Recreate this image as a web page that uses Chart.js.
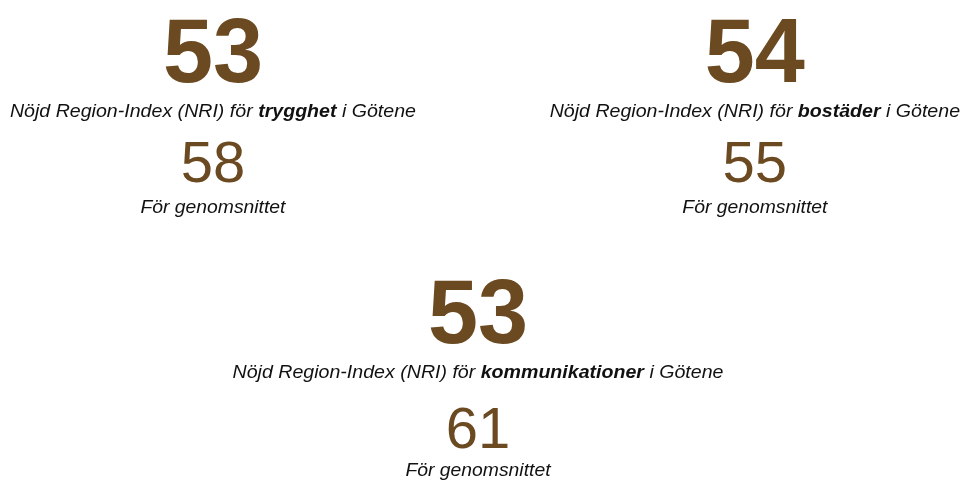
<!DOCTYPE html>
<html>
<head>
<meta charset="utf-8">
<script src="https://cdn.jsdelivr.net/npm/chart.js@4/dist/chart.umd.min.js"></script>
<style>
  html, body { margin: 0; padding: 0; background: #ffffff; }
  #wrap { width: 961px; height: 480px; }
</style>
</head>
<body>
<div id="wrap"><canvas id="c" width="961" height="480"></canvas></div>
<script>
// ---- data ----
const themes = ['trygghet', 'bostäder', 'kommunikationer'];
const nriValues = [53, 54, 53];
const averageValues = [58, 55, 61];
const municipality = 'Götene';
const labelPrefix = 'Nöjd Region-Index (NRI) för ';
const averageLabel = 'För genomsnittet';

// ---- layout ----
const blockLayout = [
  { cx: 0.2216, top: 0, avgShift: 0, capShift: 0 },
  { cx: 0.7855, top: 0, avgShift: 0, capShift: 0 },
  { cx: 0.4974, top: 261, avgShift: 5, capShift: 2 }
];

const BROWN = '#6b4a22';
const FONT = '"Liberation Sans", Arial, Helvetica, sans-serif';

function drawScaled(ctx, text, x, y, sx) {
  ctx.save();
  ctx.translate(x, y);
  ctx.scale(sx, 1);
  ctx.fillText(text, 0, 0);
  ctx.restore();
}

const kpiPlugin = {
  id: 'kpiText',
  afterDraw(chart) {
    const ctx = chart.ctx;
    const W = chart.width;
    ctx.save();
    ctx.textBaseline = 'alphabetic';
    themes.forEach((theme, i) => {
      const b = blockLayout[i];
      const cx = b.cx * W;
      const t = b.top;

      // big NRI number
      ctx.fillStyle = BROWN;
      ctx.font = 'bold 90px ' + FONT;
      ctx.textAlign = 'center';
      ctx.fillText(String(nriValues[i]), cx, 82 + t);

      // label with bold theme
      const sx = 1.088;
      const parts = [
        { txt: labelPrefix, bold: false },
        { txt: theme, bold: true },
        { txt: ' i ' + municipality, bold: false }
      ];
      let total = 0;
      parts.forEach(p => {
        ctx.font = (p.bold ? 'italic bold ' : 'italic ') + '18px ' + FONT;
        p.w = ctx.measureText(p.txt).width * sx;
        total += p.w;
      });
      let x = cx - total / 2;
      ctx.textAlign = 'left';
      ctx.fillStyle = '#111111';
      parts.forEach(p => {
        ctx.font = (p.bold ? 'italic bold ' : 'italic ') + '18px ' + FONT;
        drawScaled(ctx, p.txt, x, 117 + t, sx);
        x += p.w;
      });

      // average value
      ctx.textAlign = 'center';
      ctx.fillStyle = BROWN;
      ctx.font = '58px ' + FONT;
      ctx.fillText(String(averageValues[i]), cx, 182 + t + b.avgShift);

      // average caption
      ctx.fillStyle = '#111111';
      ctx.font = 'italic 18px ' + FONT;
      drawScaled(ctx, averageLabel, cx, 213 + t + b.capShift, 1.074);
    });
    ctx.restore();
  }
};

new Chart(document.getElementById('c'), {
  type: 'bar',
  data: { labels: themes, datasets: [{ data: nriValues, backgroundColor: 'rgba(0,0,0,0)', borderWidth: 0 }] },
  options: {
    responsive: false,
    animation: false,
    events: [],
    layout: { padding: 0 },
    plugins: { legend: { display: false }, tooltip: { enabled: false } },
    scales: { x: { display: false }, y: { display: false } }
  },
  plugins: [kpiPlugin]
});
</script>
</body>
</html>
